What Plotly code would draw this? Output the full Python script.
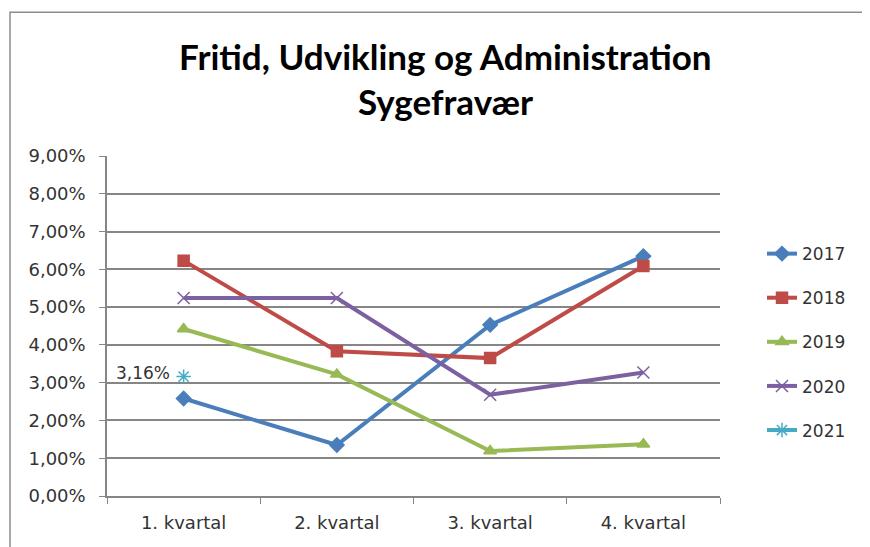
import plotly.graph_objects as go

categories = ["1. kvartal", "2. kvartal", "3. kvartal", "4. kvartal"]
y2017 = [0.0258, 0.0135, 0.0453, 0.0635]
y2018 = [0.0623, 0.0383, 0.0365, 0.0609]
y2019 = [0.0442, 0.0322, 0.0119, 0.0137]
y2020 = [0.0524, 0.0524, 0.0268, 0.0327]
y2021 = [0.0316, None, None, None]
series_names = ["2017", "2018", "2019", "2020", "2021"]
y_ticks = [0.0, 0.01, 0.02, 0.03, 0.04, 0.05, 0.06, 0.07, 0.08, 0.09]

colors = ["#4A7EBB", "#BE4B48", "#98B954", "#7D60A0", "#46AAC5"]
symbols = ["diamond", "square", "triangle-up", "x-thin-open", "asterisk-open"]
sizes = [11, 11, 11, 12, 12]

# the page body has an 8px margin; compensate so the figure lands where the reference is
OFF = 8
W, H = 870 - OFF, 547 - OFF
PL, PR, PT, PB = 107 - OFF, 720 - OFF, 156 - OFF, 495.7 - OFF  # plot box in page px
PW, PH = PR - PL, PB - PT


def px_x(px):
    return (px - OFF - PL) / PW


def px_y(py):
    return (PB - (py - OFF)) / PH


tick_font = dict(family="DejaVu Sans", size=18, color="#333333")

fig = go.Figure()
for name, ys, c, s, sz in zip(series_names, [y2017, y2018, y2019, y2020, y2021],
                              colors, symbols, sizes):
    fig.add_trace(go.Scatter(
        x=categories, y=ys, name=name, mode="lines+markers",
        legendgroup=name,
        line=dict(color=c, width=4),
        marker=dict(symbol=s, size=sz, color=c, line=dict(color=c, width=1.5)),
    ))

label_2021 = f"{y2021[0] * 100:.2f}%".replace(".", ",")

fig.update_layout(
    width=W, height=H,
    margin=dict(l=PL, r=W - PR, t=PT, b=H - PB),
    paper_bgcolor="white", plot_bgcolor="white",
    separators=",.",
    showlegend=True,
    legend=dict(x=px_x(762), xanchor="left", y=px_y(236), yanchor="top",
                font=dict(family="DejaVu Sans", size=17, color="#333333"),
                tracegroupgap=19, bgcolor="rgba(0,0,0,0)"),
    xaxis=dict(type="category", range=[-0.5, 3.5], tickson="boundaries",
               ticks="outside", ticklen=6, tickcolor="#868686",
               showline=True, linecolor="#868686", linewidth=1.5,
               showgrid=False, tickfont=tick_font, fixedrange=True,
               ticklabelstandoff=10),
    yaxis=dict(range=[0, 0.09], tickvals=y_ticks, tickformat=".2%",
               ticks="outside", ticklen=6, tickcolor="#868686",
               showline=True, linecolor="#868686", linewidth=1.5,
               showgrid=True, gridcolor="#868686", gridwidth=1.5,
               zeroline=False, tickfont=tick_font, fixedrange=True,
               ticklabelstandoff=10),
    annotations=[
        dict(text="<b>Fritid, Udvikling og Administration</b>", xref="paper", yref="paper",
             x=px_x(445), y=px_y(56), xanchor="center", yanchor="middle",
             showarrow=False, font=dict(family="Lato", size=35, color="#000000")),
        dict(text="<b>Sygefravær</b>", xref="paper", yref="paper",
             x=px_x(446), y=px_y(101), xanchor="center", yanchor="middle",
             showarrow=False, font=dict(family="Lato", size=35, color="#000000")),
        dict(text=label_2021, x=categories[0], y=y2021[0], xref="x", yref="y",
             xanchor="right", yanchor="middle", xshift=-12, yshift=4, showarrow=False,
             font=dict(family="DejaVu Sans", size=17, color="#333333")),
    ],
    shapes=[dict(type="rect", xref="paper", yref="paper",
                 x0=px_x(10), x1=px_x(900),
                 y0=px_y(620), y1=px_y(12.5),
                 line=dict(color="#8C8C8C", width=1.5), fillcolor="rgba(0,0,0,0)",
                 layer="below")],
)

fig.write_html("out.html")
